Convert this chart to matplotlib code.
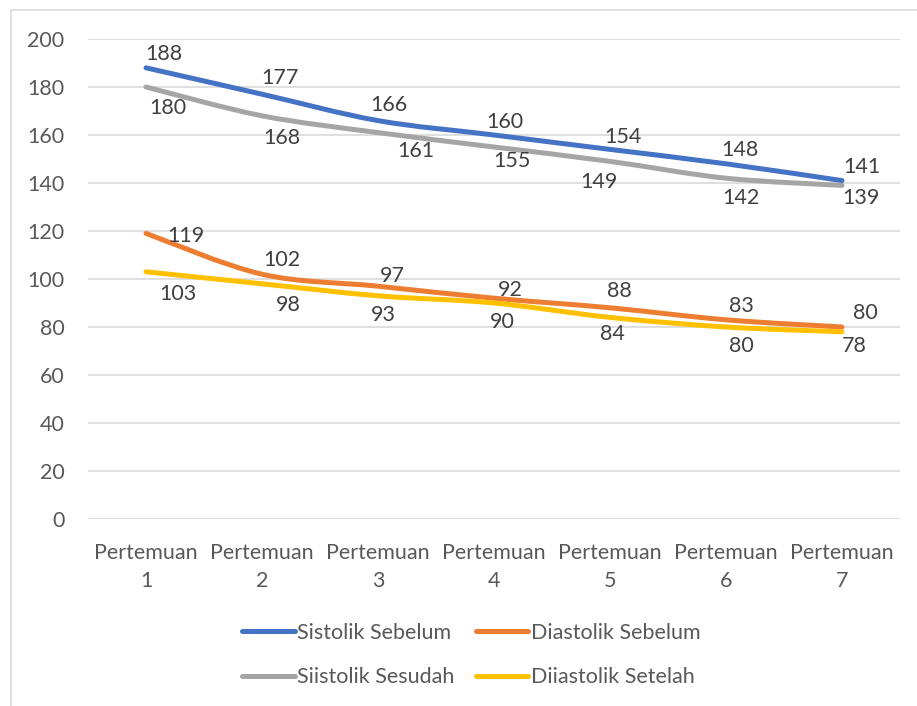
import matplotlib
matplotlib.use("Agg")
import matplotlib.pyplot as plt
from matplotlib.path import Path
from matplotlib.patches import PathPatch, Rectangle
from matplotlib.lines import Line2D
import numpy as np

plt.rcParams['font.family'] = ['Lato', 'DejaVu Sans']

categories = ["Pertemuan\n1", "Pertemuan\n2", "Pertemuan\n3", "Pertemuan\n4",
              "Pertemuan\n5", "Pertemuan\n6", "Pertemuan\n7"]
sistolik_sebelum = [188, 177, 166, 160, 154, 148, 141]
diastolik_sebelum = [119, 102, 97, 92, 88, 83, 80]
sistolik_sesudah = [180, 168, 161, 155, 149, 142, 139]
diastolik_setelah = [103, 98, 93, 90, 84, 80, 78]

series_names = ["Sistolik Sebelum", "Diastolik Sebelum",
                "Siistolik Sesudah", "Diiastolik Setelah"]
series_values = [sistolik_sebelum, diastolik_sebelum, sistolik_sesudah, diastolik_setelah]
colors = ["#4472C4", "#ED7D31", "#A5A5A5", "#FFC000"]

# label offsets in points (dx, dy) for each series' data labels
label_offsets = [
    [(13, 10), (13, 12), (8, 11), (8, 9), (9, 9), (10, 10), (14, 10)],
    [(29, -2), (14, 10), (10, 7), (12, 6), (7, 12), (11, 10), (17, 10)],
    [(16, -15), (14, -16), (27, -13), (13, -10), (-8, -15), (11, -14), (14, -9)],
    [(23, -16), (19, -15), (4, -14), (6, -14), (2, -12), (11, -14), (9, -10)],
]

FS = 15.5

fig = plt.figure(figsize=(9.17, 7.06), dpi=100)
ax = fig.add_axes([88 / 917, 1 - 519 / 706, (900 - 88) / 917, (519 - 39) / 706])

x = np.arange(len(categories))


def smooth_path(xs, ys):
    """Cubic Bezier path through the points (Catmull-Rom style tangents)."""
    pts = np.column_stack([xs, ys]).astype(float)
    n = len(pts)
    verts = [pts[0]]
    codes = [Path.MOVETO]
    for i in range(n - 1):
        p0 = pts[i - 1] if i > 0 else pts[i]
        p1 = pts[i]
        p2 = pts[i + 1]
        p3 = pts[i + 2] if i + 2 < n else pts[i + 1]
        c1 = p1 + (p2 - p0) / 6.0
        c2 = p2 - (p3 - p1) / 6.0
        verts += [c1, c2, p2]
        codes += [Path.CURVE4] * 3
    return Path(verts, codes)


handles = []
for name, vals, col, offs in zip(series_names, series_values, colors, label_offsets):
    patch = PathPatch(smooth_path(x, vals), facecolor="none", edgecolor=col,
                      lw=3.6, capstyle="round", joinstyle="round", zorder=3)
    ax.add_patch(patch)
    for xi, v, (dx, dy) in zip(x, vals, offs):
        ax.annotate(str(v), (xi, v), xytext=(dx, dy), textcoords="offset points",
                    ha="center", va="center", fontsize=FS, color="#404040", zorder=4)
    handles.append(Line2D([], [], color=col, lw=3.6, solid_capstyle="round"))

ax.set_xlim(-0.5, len(categories) - 0.5)
ax.set_ylim(0, 200)
ax.set_yticks(np.arange(0, 201, 20))
ax.set_xticks(x)
ax.set_xticklabels(categories, linespacing=1.45)
ax.yaxis.grid(True, color="#D9D9D9", lw=1.2)
ax.set_axisbelow(True)
for s in ax.spines.values():
    s.set_visible(False)
ax.tick_params(axis="both", length=0, labelsize=FS, labelcolor="#595959")
ax.tick_params(axis="y", pad=17)
ax.tick_params(axis="x", pad=17.5)

# legend: two rows, filled row-wise
order = [0, 2, 1, 3]
fig.legend([handles[i] for i in order], [series_names[i] for i in order],
           loc="center", bbox_to_anchor=(471 / 917, 1 - 655 / 706), ncol=2,
           frameon=False, fontsize=FS, labelcolor="#595959", handlelength=2.45,
           handletextpad=0.1, columnspacing=1.0, labelspacing=1.15)

# chart area frame
fig.add_artist(Rectangle((11 / 917, -0.1), 1.2, 1 - 10 / 706 + 0.1,
                         transform=fig.transFigure, fill=False,
                         edgecolor="#D9D9D9", lw=1.2))

fig.savefig("out.png", dpi=100)
